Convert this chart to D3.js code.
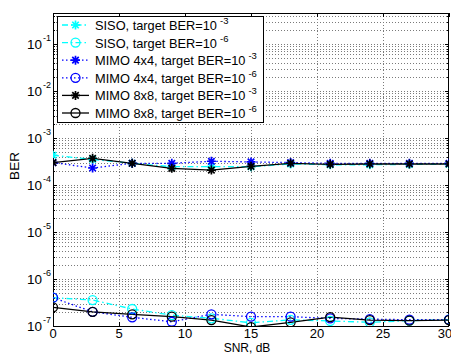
<!DOCTYPE html>
<html><head><meta charset="utf-8">
<script src="https://cdn.jsdelivr.net/npm/d3@7"></script>
<style>body{margin:0;background:#fff;}svg{display:block;font-family:"Liberation Sans",Arial,sans-serif;}</style>
</head><body>
<svg id="c" width="451" height="355"></svg>
<script>
const snr = [0, 3, 6, 9, 12, 15, 18, 21, 24, 27, 30];
const siso3  = [4.3e-4, 3.5e-4, 2.9e-4, 2.45e-4, 2.45e-4, 2.45e-4, 2.8e-4, 2.7e-4, 2.7e-4, 2.75e-4, 2.75e-4];
const siso6  = [4.0e-7, 3.57e-7, 2.3e-7, 1.7e-7, 1.46e-7, 1.17e-7, 1.35e-7, 1.28e-7, 1.2e-7, 1.3e-7, 1.36e-7];
const mimo4_3 = [3.0e-4, 2.3e-4, 2.9e-4, 2.9e-4, 3.2e-4, 3.1e-4, 3.0e-4, 2.9e-4, 2.9e-4, 2.9e-4, 2.9e-4];
const mimo4_6 = [4.0e-7, 2.0e-7, 1.53e-7, 1.23e-7, 1.77e-7, 1.58e-7, 1.58e-7, 1.45e-7, 1.4e-7, 1.36e-7, 1.36e-7];
const mimo8_3 = [3.0e-4, 3.7e-4, 2.9e-4, 2.26e-4, 2.08e-4, 2.5e-4, 2.9e-4, 2.76e-4, 2.8e-4, 2.8e-4, 2.8e-4];
const mimo8_6 = [2.5e-7, 2.0e-7, 1.77e-7, 1.58e-7, 1.34e-7, 0.95e-7, 1.2e-7, 1.55e-7, 1.34e-7, 1.3e-7, 1.34e-7];
const xTicks = [0, 5, 10, 15, 20, 25, 30];
const yTickExp = [-7, -6, -5, -4, -3, -2, -1];
const legendLabels = ["SISO, target BER=10", "SISO, target BER=10", "MIMO 4x4, target BER=10", "MIMO 4x4, target BER=10", "MIMO 8x8, target BER=10", "MIMO 8x8, target BER=10"];
const legendExp = ["-3", "-6", "-3", "-6", "-3", "-6"];

const series = [
  {v: siso3, color: "#00ffff", dash: "6,3,1.5,3", marker: "star"},
  {v: siso6, color: "#00ffff", dash: "6,3,1.5,3", marker: "circle"},
  {v: mimo4_3, color: "#0000ff", dash: "1.5,2.5", marker: "star"},
  {v: mimo4_6, color: "#0000ff", dash: "1.5,2.5", marker: "circle"},
  {v: mimo8_3, color: "#000000", dash: null, marker: "star"},
  {v: mimo8_6, color: "#000000", dash: null, marker: "circle"}
];

const L = 53, R = 449, T = 13, B = 326;
const x = d3.scaleLinear().domain([0, 30]).range([L, R]);
const y = d3.scaleLog().domain([1e-7, Math.pow(10, -0.34)]).range([B, T]);
const svg = d3.select("#c");

svg.append("defs").append("clipPath").attr("id", "clip")
  .append("rect").attr("x", L).attr("y", T).attr("width", R - L).attr("height", B - T);

// grid
const grid = svg.append("g").attr("stroke", "#7a7a7a").attr("stroke-width", 1)
  .attr("stroke-dasharray", "1,2").attr("shape-rendering", "crispEdges");
const gv = [];
for (let e = -7; e <= -1; e++) for (let m = 1; m <= 9; m++) {
  const v = m * Math.pow(10, e);
  if (v > 1e-7 && v < y.domain()[1]) gv.push(v);
}
gv.forEach(v => grid.append("line").attr("x1", L).attr("x2", R)
  .attr("y1", Math.round(y(v)) + 0.5).attr("y2", Math.round(y(v)) + 0.5));
xTicks.slice(1, -1).forEach(t => grid.append("line").attr("y1", T).attr("y2", B)
  .attr("x1", Math.round(x(t)) + 0.5).attr("x2", Math.round(x(t)) + 0.5));

// ticks
const tk = svg.append("g").attr("stroke", "#000").attr("shape-rendering", "crispEdges");
xTicks.forEach(t => {
  const xx = Math.round(x(t)) + 0.5;
  tk.append("line").attr("x1", xx).attr("x2", xx).attr("y1", B).attr("y2", B - 4);
  tk.append("line").attr("x1", xx).attr("x2", xx).attr("y1", T).attr("y2", T + 4);
});
gv.forEach(v => {
  const yy = Math.round(y(v)) + 0.5;
  const major = Math.abs(Math.log10(v) - Math.round(Math.log10(v))) < 1e-9;
  const len = major ? 4 : 2;
  tk.append("line").attr("x1", L).attr("x2", L + len).attr("y1", yy).attr("y2", yy);
  tk.append("line").attr("x1", R).attr("x2", R - len).attr("y1", yy).attr("y2", yy);
});

// frame
svg.append("rect").attr("x", L + 0.5).attr("y", T + 0.5).attr("width", R - L - 1).attr("height", B - T)
  .attr("fill", "none").attr("stroke", "#000").attr("shape-rendering", "crispEdges");

// data
const line = d3.line().x((d, i) => x(snr[i])).y(d => y(d));
const plot = svg.append("g").attr("clip-path", "url(#clip)");
function drawMarker(g, type, cx, cy, color) {
  if (type === "circle") {
    g.append("circle").attr("cx", cx).attr("cy", cy).attr("r", 4.5)
      .attr("fill", "none").attr("stroke", color).attr("stroke-width", 1.3);
  } else {
    const r = 4.5, d = r * 0.72;
    const p = `M${cx - r},${cy}L${cx + r},${cy}M${cx},${cy - r}L${cx},${cy + r}` +
      `M${cx - d},${cy - d}L${cx + d},${cy + d}M${cx - d},${cy + d}L${cx + d},${cy - d}`;
    g.append("path").attr("d", p).attr("stroke", color).attr("stroke-width", 1.7).attr("fill", "none");
  }
}
series.forEach(s => {
  plot.append("path").datum(s.v).attr("d", line).attr("fill", "none")
    .attr("stroke", s.color).attr("stroke-width", 1.3)
    .attr("stroke-dasharray", s.dash);
});
series.forEach(s => {
  s.v.forEach((v, i) => drawMarker(plot, s.marker, x(snr[i]), y(v), s.color));
});

// tick labels
const lab = svg.append("g").attr("fill", "#000");
xTicks.forEach(t => lab.append("text").attr("x", t === 30 ? 445 : x(t)).attr("y", 338)
  .attr("text-anchor", "middle").attr("font-size", 13).text(t));
yTickExp.forEach(e => {
  lab.append("text").attr("x", 42).attr("y", y(Math.pow(10, e)) + 5)
    .attr("text-anchor", "end").attr("font-size", 13.5).text("10");
  lab.append("text").attr("x", 43).attr("y", y(Math.pow(10, e)) - 3)
    .attr("font-size", 9).text(e);
});
lab.append("text").attr("x", 247).attr("y", 351.5).attr("text-anchor", "middle")
  .attr("font-size", 12).text("SNR, dB");
lab.append("text").attr("transform", "translate(19,166) rotate(-90)")
  .attr("text-anchor", "middle").attr("font-size", 13.5).text("BER");

// legend
const lg = svg.append("g");
lg.append("rect").attr("x", 57.5).attr("y", 16.5).attr("width", 206).attr("height", 106)
  .attr("fill", "#fff").attr("stroke", "#000").attr("shape-rendering", "crispEdges");
series.forEach((s, i) => {
  const yy = 25 + i * 17.6;
  lg.append("line").attr("x1", 62).attr("x2", 89).attr("y1", yy).attr("y2", yy)
    .attr("stroke", s.color).attr("stroke-width", 1.3).attr("stroke-dasharray", s.dash);
  drawMarker(lg, s.marker, 75.5, yy, s.color);
  const t = lg.append("text").attr("x", 95).attr("y", yy + 5).attr("font-size", 12.8).text(legendLabels[i]);
  const w = t.node().getComputedTextLength();
  lg.append("text").attr("x", 95 + w + 3).attr("y", yy - 1).attr("font-size", 9.5).text(legendExp[i]);
});
</script>
</body></html>
